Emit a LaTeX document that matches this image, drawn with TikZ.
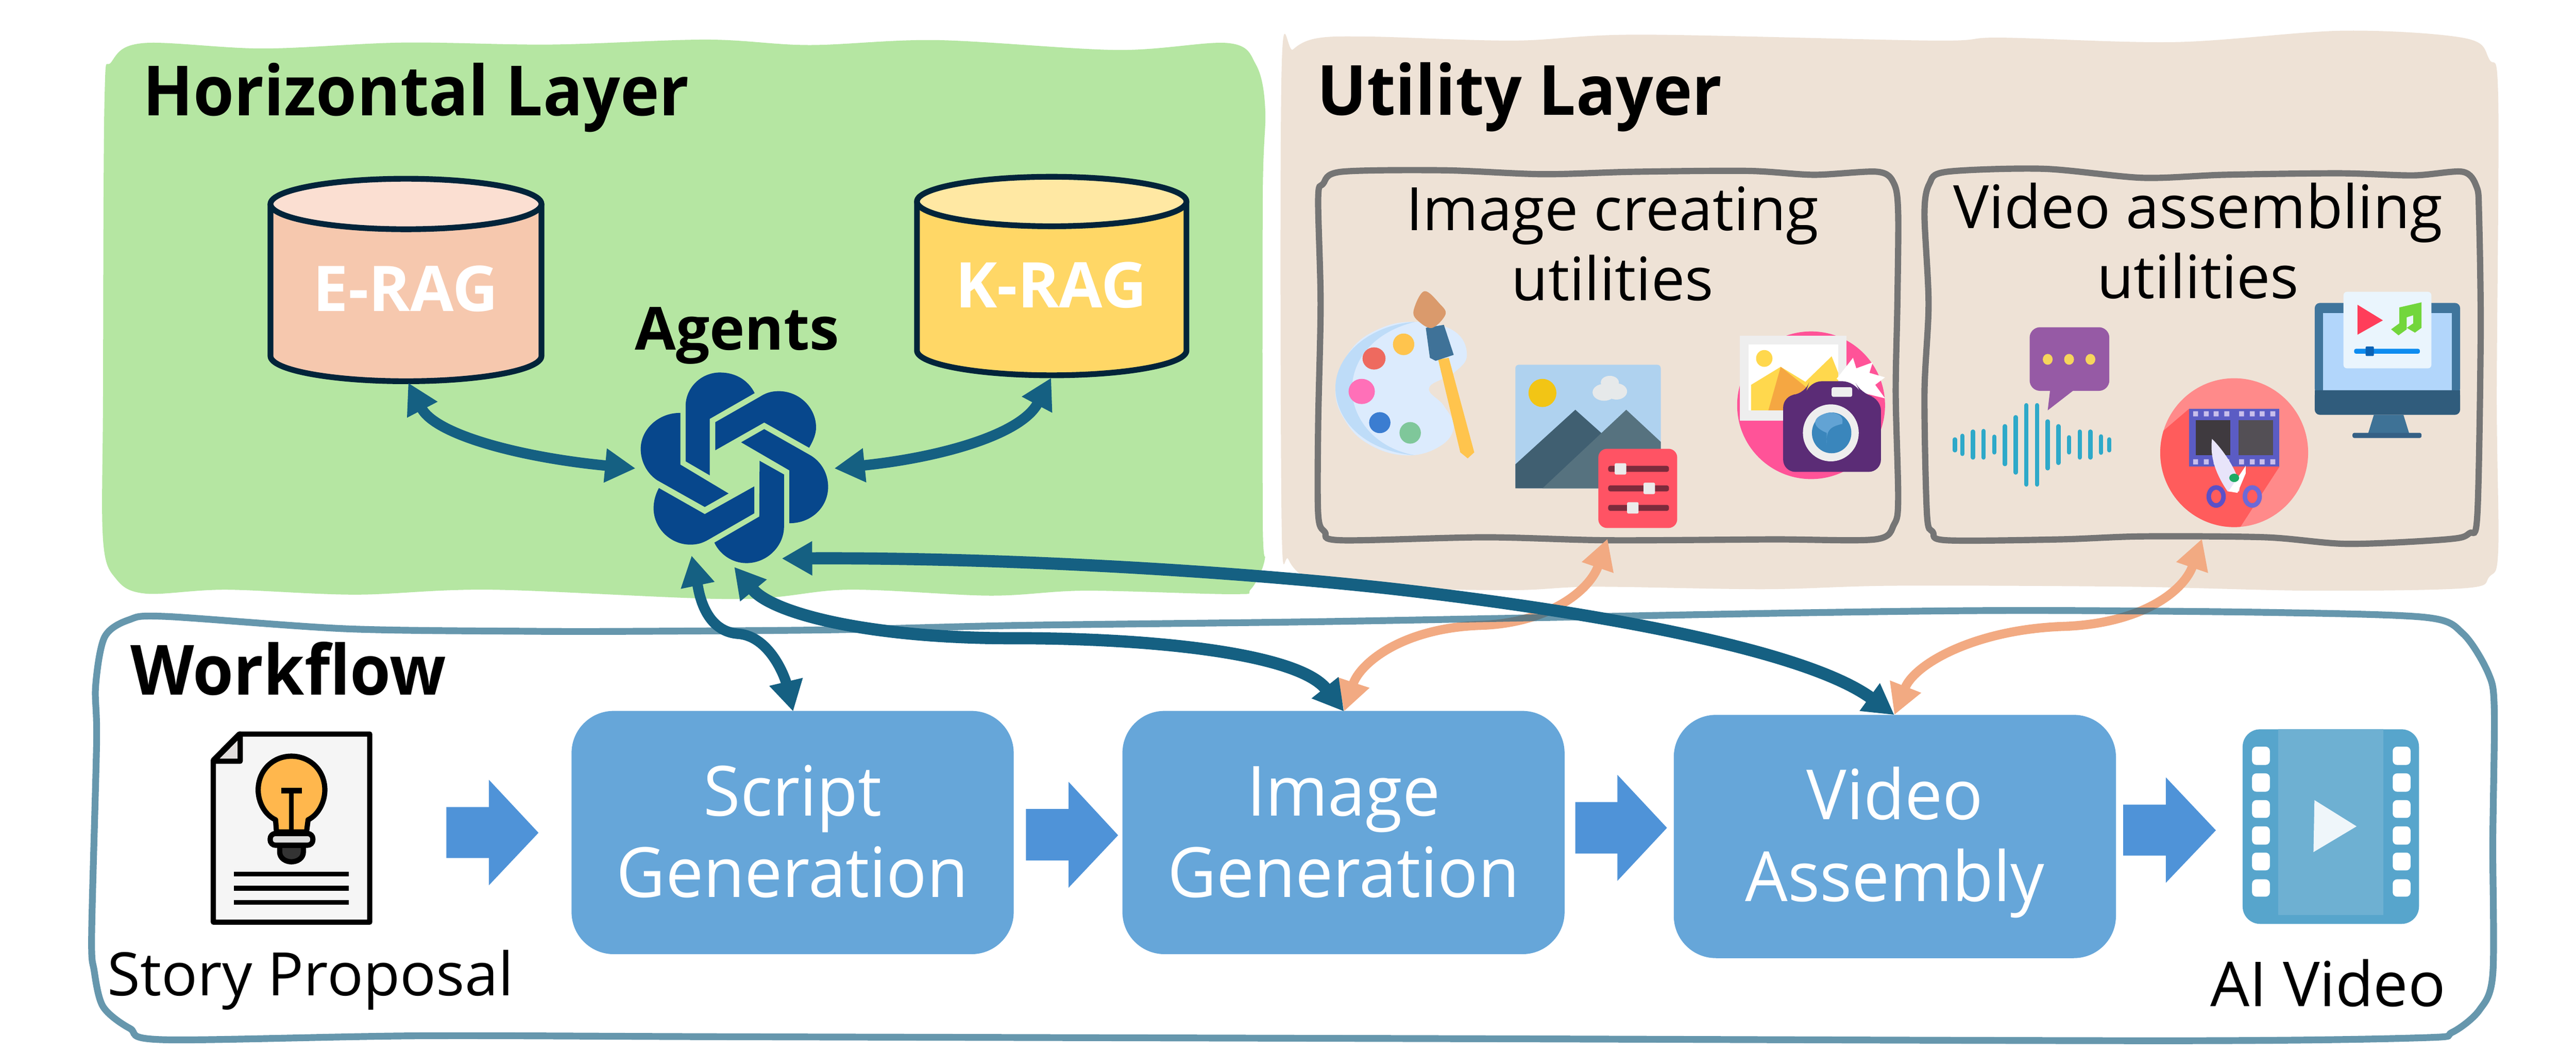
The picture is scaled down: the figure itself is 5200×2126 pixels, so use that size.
\documentclass[tikz,border=0pt]{standalone}
\usepackage{fontspec}
\usetikzlibrary{arrows.meta}
\setmainfont{Open Sans}
\newfontfamily\headfont[FakeStretch=0.95]{Open Sans}
\newfontfamily\boxfont[FakeStretch=0.97]{Open Sans}
\definecolor{panelgreen}{HTML}{B5E6A2}
\definecolor{panelbeige}{HTML}{EEE2D6}
\definecolor{wfline}{HTML}{156082}
\definecolor{dkline}{HTML}{156082}
\definecolor{orline}{HTML}{F2AA82}
\definecolor{boxblue}{HTML}{66A6D9}
\definecolor{fatblue}{HTML}{4F93D8}
\definecolor{cylline}{HTML}{02243A}
\definecolor{logoblue}{HTML}{07478C}
\definecolor{gbox}{HTML}{757575}
\definecolor{filmdk}{HTML}{57A5CC}
\definecolor{filmlt}{HTML}{6EB0D2}
\definecolor{eragbody}{HTML}{F6C8AE}
\definecolor{eragtop}{HTML}{FBDFD2}
\definecolor{kragbody}{HTML}{FFD766}
\definecolor{kragtop}{HTML}{FFE8A3}
\tikzset{
  headingtext/.style={anchor=base,inner sep=0pt,font=\headfont\fontsize{39.8}{46}\bfseries\selectfont},
  plaintext/.style={anchor=base,inner sep=0pt,font=\fontsize{34.4}{40}\selectfont},
  boldmid/.style={anchor=base,inner sep=0pt,font=\fontsize{34.2}{40}\bfseries\selectfont},
  ragtext/.style={anchor=base,inner sep=0pt,text=white,font=\fontsize{36.2}{42}\bfseries\selectfont},
  flowbox/.style={fill=boxblue,rounded corners=.85cm,minimum width=8.92cm,minimum height=4.91cm,inner sep=0pt,align=center,text=white,font=\boxfont\fontsize{39.8}{46.94}\selectfont},
  dkarrow/.style={draw=dkline,line width=#1,{Triangle[length=17.5pt,width=18.5pt]}-{Triangle[length=17.5pt,width=18.5pt]}},
  orarrow/.style={draw=orline,line width=5.2pt,{Triangle[length=17.5pt,width=18pt]}-{Triangle[length=17.5pt,width=18pt]}},
  fatarrow/.style={fill=fatblue},
  sketchbox/.style={draw=gbox,line width=3.6pt},
  cyl/.style={draw=cylline,line width=3.3pt,line join=round},
  logopiece/.style={fill=logoblue},
  inkline/.style={draw=black,line width=3pt,line join=round},
}
\newcommand{\twolines}[2]{\rule{0pt}{1.4cm}#1\\#2\rule[-.43cm]{0pt}{.43cm}}
\begin{document}
\begin{tikzpicture}[x=0.01cm,y=-0.01cm]
\useasboundingbox (0,0) rectangle (5200,2126);
\fill[white] (0,0) rectangle (5200,2126);

% ---------- panels
\fill[panelgreen] plot[smooth cycle,tension=.55] coordinates {
 (290,87)(531,98)(813,86)(1111,90)(1426,80)(1633,91)(1891,81)(2255,101)(2479,87)(2535,130)(2554,220)(2549,400)(2549,1050)(2553,1130)(2525,1190)(2487,1200)(2190,1193)(1998,1203)(1712,1191)(1482,1210)(992,1191)(717,1201)(456,1191)(295,1199)(235,1170)(208,1090)(208,800)(211,200)(225,125)};
\fill[panelbeige] plot[smooth cycle,tension=.55] coordinates {
 (2660,77)(2770,74)(3057,82)(3310,70)(3902,82)(4037,76)(4392,85)(4730,62)(4975,77)(5025,120)(5043,200)(5040,800)(5043,1110)(5025,1165)(4975,1188)(4667,1193)(4300,1185)(3825,1183)(3561,1190)(3217,1185)(3044,1192)(2700,1185)(2640,1170)(2601,1130)(2587,1050)(2587,143)(2610,100)};

% ---------- headings
\node[headingtext,anchor=base west] (hlayer) at (288,233) {Horizontal Layer};
\node[headingtext,anchor=base west] (ulayer) at (2658,232) {Utility Layer};
\node[headingtext,anchor=base west] (wflow) at (263,1403) {Workflow};

% ---------- cylinders
\draw[cyl,fill=eragbody] (546,412) -- (546,719) arc[start angle=180,end angle=0,x radius=273.5,y radius=51] -- (1093,412) -- cycle;
\draw[cyl,fill=eragtop] (819.5,412) ellipse[x radius=273.5,y radius=51];
\draw[cyl,fill=kragbody] (1851,407) -- (1851,708) arc[start angle=180,end angle=0,x radius=272,y radius=50] -- (2395,407) -- cycle;
\draw[cyl,fill=kragtop] (2123,407) ellipse[x radius=272,y radius=50];
\node[ragtext] (erag) at (819,629) {E-RAG};
\node[ragtext] (krag) at (2122,621) {K-RAG};
\coordinate (eragport) at (824,773);
\coordinate (kragport) at (2122,763);

% ---------- agents
\node[boldmid] (agents) at (1488,707) {Agents};
\begin{scope}[shift={(1240,720)},scale=.33333]
\fill[logopiece] (850,222) .. controls (810,140) and (730,97) .. (640,97) .. controls (525,97) and (432,190) .. (432,300) -- (432,635) -- (578,720) -- (578,378) -- cycle;
\fill[logopiece] (612,398) -- (880,245) .. controls (915,222) and (950,210) .. (995,210) .. controls (1120,210) and (1222,310) .. (1222,430) .. controls (1222,470) and (1205,510) .. (1180,553) -- (908,400) -- (612,568) -- cycle;
\fill[logopiece] (768,520) -- (908,440) -- (1190,600) .. controls (1255,640) and (1295,710) .. (1295,790) .. controls (1295,915) and (1190,1012) .. (1060,1010) -- (1060,690) -- cycle;
\fill[logopiece] (880,632) -- (1028,715) -- (1028,1030) .. controls (1028,1150) and (925,1252) .. (800,1252) .. controls (715,1252) and (640,1200) .. (606,1128) -- (878,970) -- cycle;
\fill[logopiece] (848,787) -- (848,950) -- (570,1110) .. controls (535,1130) and (505,1140) .. (460,1140) .. controls (340,1140) and (238,1040) .. (238,920) .. controls (238,875) and (250,835) .. (270,797) -- (548,955) -- cycle;
\fill[logopiece] (692,830) -- (548,912) -- (260,750) .. controls (200,710) and (160,640) .. (160,560) .. controls (160,440) and (270,340) .. (400,342) -- (400,655) -- cycle;
\end{scope}
\coordinate (agW) at (1283,946);
\coordinate (agE) at (1684,946);
\coordinate (agS1) at (1396,1122);
\coordinate (agS2) at (1482,1145);
\coordinate (agS3) at (1578,1128);

% ---------- utility boxes
\begin{scope}[shift={(2500,250)},xscale=1.6584,yscale=.60606]
\draw[sketchbox] plot[smooth cycle,tension=.5] coordinates {
 (125,160)(250,155)(370,168)(480,160)(620,157)(700,170)(778,160)(798,200)(803,300)(802,600)(800,900)(803,1250)(798,1335)(775,1385)(650,1385)(450,1388)(300,1378)(125,1388)(105,1360)(97,1300)(97,1000)(100,600)(97,250)(103,200)};
\draw[sketchbox] plot[smooth cycle,tension=.5] coordinates {
 (862,160)(980,150)(1100,180)(1200,170)(1340,165)(1430,172)(1490,160)(1507,210)(1510,300)(1512,700)(1508,1300)(1498,1365)(1470,1385)(1350,1400)(1250,1378)(1100,1375)(1000,1385)(862,1388)(845,1360)(838,1300)(835,900)(840,600)(835,300)(841,200)};

% palette
\fill[fill={rgb,255:red,220;green,235;blue,253}] plot[smooth cycle,tension=.7] coordinates {(215,660)(262,690)(278,770)(262,830)(232,880)(250,940)(262,1010)(245,1075)(205,1105)(160,1070)(130,990)(118,880)(135,760)(170,685)};
\fill[fill={rgb,255:red,190;green,220;blue,248}] (215,1105) .. controls (150,1090) and (118,980) .. (118,880) .. controls (118,770) and (160,670) .. (215,660) .. controls (170,690) and (140,770) .. (138,880) .. controls (138,980) and (165,1080) .. (215,1105) -- cycle;
\fill[fill={rgb,255:red,255;green,196;blue,77}] (201,735) ellipse[x radius=13,y radius=36];
\fill[fill={rgb,255:red,238;green,106;blue,95}] (165,782) ellipse[x radius=14,y radius=37];
\fill[fill={rgb,255:red,255;green,112;blue,184}] (150,892) ellipse[x radius=16,y radius=42];
\fill[fill={rgb,255:red,59;green,125;blue,209}] (172,996) ellipse[x radius=13,y radius=35];
\fill[fill={rgb,255:red,127;green,199;blue,154}] (209,1030) ellipse[x radius=13,y radius=36];
\fill[fill={rgb,255:red,255;green,196;blue,77}] (243,785) -- (256,780) -- (287,1095) -- (279,1115) -- (270,1095) -- cycle;
\fill[fill={rgb,255:red,63;green,114;blue,152}] (228,680) -- (250,670) -- (262,770) -- (240,790) -- (233,780) -- cycle;
\fill[fill={rgb,255:red,218;green,154;blue,108}] plot[smooth cycle,tension=.6] coordinates {(226,558)(245,600)(252,635)(236,680)(220,660)(213,625)};

% picture + sliders
\fill[fill={rgb,255:red,175;green,210;blue,239},rounded corners=2pt] (337,803) rectangle (514,1215);
\fill[fill={rgb,255:red,242;green,197;blue,21}] (370,897) ellipse[x radius=17,y radius=47];
\fill[fill={rgb,255:red,230;green,233;blue,234}] (452,862) ellipse[x radius=11,y radius=22] (445,895) ellipse[x radius=14,y radius=28] (460,892) ellipse[x radius=13,y radius=27];
\fill[fill={rgb,255:red,64;green,95;blue,113}] (337,1135) -- (410,953) -- (470,1100) -- (470,1215) -- (337,1215) -- cycle;
\fill[fill={rgb,255:red,86;green,114;blue,127}] (370,1215) -- (472,953) -- (514,1060) -- (514,1215) -- cycle;
\fill[fill={rgb,255:red,255;green,83;blue,100},rounded corners=5pt] (438,1083) rectangle (534,1347);
\foreach \yy/\kx in {1150/465,1215/500,1280/480}{
  \fill[fill={rgb,255:red,124;green,43;blue,60},rounded corners=1.2pt] (450,\yy-10) rectangle (524,\yy+10);
  \fill[white!92!black,rounded corners=.8pt] (\kx-7,\yy-19) rectangle (\kx+7,\yy+19);
}

% camera
\fill[fill={rgb,255:red,255;green,83;blue,152}] (697,938) ellipse[x radius=90,y radius=246];
\fill[fill={rgb,255:red,238;green,238;blue,238}] (610,706) rectangle (740,990);
\fill[white] (621,735) rectangle (730,955);
\fill[fill={rgb,255:red,255;green,216;blue,77}] (640,782) ellipse[x radius=10,y radius=28];
\fill[fill={rgb,255:red,255;green,216;blue,77}] (624,870) -- (660,810) -- (690,860) -- (722,775) -- (730,830) -- (730,955) -- (624,955) -- cycle;
\fill[fill={rgb,255:red,245;green,167;blue,66}] (645,955) -- (660,810) -- (692,880) -- (692,955) -- cycle;
\fill[white] (728,850) -- (748,780) -- (752,815) -- (772,795) -- (768,830) -- (787,845) -- (775,870) -- (787,915) -- (750,890) -- cycle;
\fill[fill={rgb,255:red,91;green,44;blue,118},rounded corners=7pt] (663,905) -- (690,900) -- (695,858) -- (750,858) -- (758,900) -- (782,915) -- (782,1160) -- (663,1160) -- cycle;
\fill[fill={rgb,255:red,238;green,238;blue,238},rounded corners=1pt] (722,878) rectangle (747,910);
\fill[fill={rgb,255:red,238;green,238;blue,238}] (721,1030) ellipse[x radius=34,y radius=95];
\fill[fill={rgb,255:red,58;green,134;blue,188}] (722,1030) ellipse[x radius=24,y radius=68];
\fill[fill={rgb,255:red,98;green,163;blue,212}] (716,1030) .. controls (690,1000) and (705,965) .. (722,962) .. controls (738,970) and (735,990) .. (735,1000) .. controls (720,1010) and (715,1020) .. (716,1070) -- cycle;

% speech + waveform
\fill[fill={rgb,255:red,150;green,90;blue,165},rounded corners=6pt] (963,678) rectangle (1060,890);
\fill[fill={rgb,255:red,150;green,90;blue,165}] (988,885) -- (985,955) -- (1018,885) -- cycle;
\foreach \dx in {985,1011,1037}{\fill[fill={rgb,255:red,246;green,213;blue,92}] (\dx,785) ellipse[x radius=6,y radius=18];}
\foreach \bx/\ba/\bb in {872/1052/1088,881/1040/1100,894/1026/1112,907/1024/1112,920/1043/1095,933/1008/1134,946/978/1162,959/938/1202,972/938/1202,985/992/1148,998/1008/1130,1011/1045/1095,1024/1026/1112,1037/1026/1112,1050/1042/1096,1060/1052/1088}{
  \draw[draw={rgb,255:red,46;green,169;blue,201},line width=2.5pt,line cap=round] (\bx,\ba) -- (\bx,\bb);
}

% scissors
\begin{scope}
\clip (1212,1096) ellipse[x radius=90,y radius=248];
\fill[fill={rgb,255:red,255;green,138;blue,138}] (1100,840) rectangle (1310,1350);
\fill[fill={rgb,255:red,255;green,92;blue,92}] (1110,1060) -- (1157,950) -- (1267,1143) -- (1218,1350) -- (1110,1350) -- cycle;
\end{scope}
\fill[fill={rgb,255:red,91;green,92;blue,196}] (1157,950) rectangle (1267,1143);
\fill[fill={rgb,255:red,63;green,58;blue,63}] (1165,988) rectangle (1207,1105);
\fill[fill={rgb,255:red,83;green,79;blue,85}] (1217,988) rectangle (1259,1105);
\foreach \sx in {1165,1178,1190,1203,1221,1234,1246,1259}{\fill[fill={rgb,255:red,200;green,190;blue,235}] (\sx-3,958) rectangle (\sx+3,975) (\sx-3,1118) rectangle (\sx+3,1135);}
\fill[fill={rgb,255:red,232;green,228;blue,250}] (1185,1050) .. controls (1200,1090) and (1222,1180) .. (1218,1225) -- (1204,1225) .. controls (1190,1170) and (1182,1110) .. (1185,1050) -- cycle;
\fill[white] (1226,1140) -- (1205,1225) -- (1216,1230) -- (1226,1165) -- cycle;
\fill[fill={rgb,255:red,30;green,170;blue,100}] (1212,1180) ellipse[x radius=6,y radius=14];
\draw[draw={rgb,255:red,91;green,80;blue,200},line width=2.6pt] (1190,1242) ellipse[x radius=9,y radius=30];
\draw[draw={rgb,255:red,110;green,105;blue,215},line width=2.6pt] (1234,1242) ellipse[x radius=9,y radius=30];

% monitor
\fill[fill={rgb,255:red,64;green,117;blue,156},rounded corners=3pt] (1310,597) rectangle (1487,900);
\fill[fill={rgb,255:red,178;green,214;blue,251}] (1320,630) rectangle (1477,890);
\fill[fill={rgb,255:red,48;green,92;blue,124},rounded corners=3pt] (1310,888) rectangle (1487,970);
\fill[fill={rgb,255:red,48;green,92;blue,124}] (1310,888) rectangle (1487,930);
\fill[fill={rgb,255:red,62;green,114;blue,150}] (1382,970) -- (1418,970) -- (1425,1032) -- (1375,1032) -- cycle;
\fill[fill={rgb,255:red,53;green,96;blue,133},rounded corners=1pt] (1356,1030) rectangle (1440,1047);
\fill[fill={rgb,255:red,234;green,245;blue,253},rounded corners=2pt] (1345,560) rectangle (1452,815);
\fill[fill={rgb,255:red,255;green,61;blue,90}] (1362,603) -- (1393,655) -- (1362,703) -- cycle;
\fill[fill={rgb,255:red,114;green,214;blue,60}] (1413,612) -- (1440,595) -- (1440,680) -- (1432,696) -- (1422,680) -- (1430,665) -- (1430,638) -- (1422,645) -- (1422,685) -- (1412,705) -- (1403,685) -- (1413,665) -- cycle;
\fill[fill={rgb,255:red,13;green,140;blue,240},rounded corners=1pt] (1358,750) rectangle (1438,766);
\fill[fill={rgb,255:red,10;green,98;blue,181},rounded corners=.6pt] (1372,742) rectangle (1382,774);
\end{scope}
\node[plaintext] (imgutil1) at (3255,465) {Image creating};
\node[plaintext] (imgutil2) at (3255,607) {utilities};
\node[plaintext] (vidutil1) at (4437,461) {Video assembling};
\node[plaintext] (vidutil2) at (4437,603) {utilities};
\coordinate (imgport) at (3245,1088);
\coordinate (vidport) at (4445,1088);

% ---------- workflow boxes
\node[flowbox] (script) at (1600,1681.5) {\twolines{Script}{Generation}};
\node[flowbox] (image)  at (2712,1681.5) {\twolines{Image}{Generation}};
\node[flowbox] (video)  at (3825,1689.5) {\twolines{Video}{Assembly}};
\coordinate (scriptN) at (1601,1437);
\coordinate (imageN) at (2713,1437);
\coordinate (videoN) at (3824,1444);

% fat arrows
\fill[fatarrow] (901,1630) -- (987,1630) -- (987,1575) -- (1087,1682) -- (987,1788) -- (987,1733) -- (901,1733) -- cycle;
\fill[fatarrow] (2071,1634) -- (2157,1634) -- (2157,1579) -- (2257,1687) -- (2157,1793) -- (2157,1738) -- (2071,1738) -- cycle;
\fill[fatarrow] (3180,1620) -- (3265,1620) -- (3265,1565) -- (3365,1672) -- (3265,1779) -- (3265,1724) -- (3180,1724) -- cycle;
\fill[fatarrow] (4286,1625) -- (4372,1625) -- (4372,1570) -- (4473,1677) -- (4372,1783) -- (4372,1728) -- (4286,1728) -- cycle;

% story proposal icon
\begin{scope}[shift={(150,1350)},xscale=.63776,yscale=.44643]
\fill[inkline,fill={rgb,255:red,245;green,245;blue,245},draw=black] (522,297) -- (935,297) -- (935,1148) -- (440,1148) -- (440,415) -- cycle;
\fill[inkline,fill={rgb,255:red,226;green,222;blue,221},draw=black] (525,297) -- (525,420) -- (440,420) -- cycle;
\fill[inkline,fill={rgb,255:red,255;green,183;blue,77},draw=black] (640,740) -- (637,685) .. controls (600,660) and (582,600) .. (582,550) .. controls (582,460) and (630,397) .. (687,397) .. controls (745,397) and (793,460) .. (793,550) .. controls (793,600) and (775,660) .. (740,685) -- (735,740) -- cycle;
\draw[black,line width=3pt] (655,553) -- (720,553);
\draw[black,line width=2.6pt] (687,553) -- (687,745);
\fill[inkline,fill={rgb,255:red,51;green,51;blue,51},draw=black] (650,800) -- (725,800) -- (725,830) .. controls (725,860) and (705,875) .. (687,875) .. controls (670,875) and (650,860) .. (650,830) -- cycle;
\fill[inkline,fill={rgb,255:red,221;green,221;blue,221},draw=black,rounded corners=3pt] (620,747) rectangle (755,800);
\foreach \ly in {931,995,1058}{\fill[black] (505,\ly-11) rectangle (868,\ly+11);}
\end{scope}
\node[plaintext,anchor=base west] (story) at (216,2011) {Story Proposal};

% AI video icon
\fill[filmdk,rounded corners=10pt] (4527,1473) rectangle (4883,1866);
\fill[filmlt] (4599,1473) rectangle (4811,1848);
\fill[fill={rgb,255:red,239;green,246;blue,250}] (4672,1616) -- (4757,1669) -- (4670,1721) -- cycle;
\foreach \ya/\yb in {1508/1545,1562/1599,1616/1652,1669/1706,1722/1758,1776/1811}{
  \fill[white,rounded corners=2.5pt] (4546,\ya) rectangle (4582,\yb);
  \fill[white,rounded corners=2.5pt] (4830,\ya) rectangle (4866,\yb);
}
\node[plaintext,anchor=base west,font=\fontsize{35.6}{40}\selectfont] (aivideo) at (4461,2033) {AI Video};

% ---------- connectors
\draw[orarrow] (imgport) .. controls (3210,1190) and (3130,1258) .. (2990,1263) .. controls (2830,1268) and (2745,1340) .. (imageN);
\draw[orarrow] (vidport) .. controls (4410,1190) and (4330,1258) .. (4170,1265) .. controls (3990,1270) and (3865,1340) .. (videoN);
% workflow outline (translucent, over the orange arrows)
\draw[draw=wfline,draw opacity=.65,line width=3.9pt] plot[smooth cycle,tension=.5] coordinates {
 (334,1245)(700,1270)(1069,1275)(1300,1275)(1681,1272)(2065,1263)(2700,1255)(3618,1238)(4078,1233)(4587,1237)(4897,1247)(4972,1280)(5023,1360)(5035,1433)(5032,1700)(5032,1967)(5005,2040)(4950,2085)(4889,2096)(4400,2102)(3000,2098)(1500,2094)(850,2092)(333,2100)(262,2077)(208,2033)(190,1960)(185,1886)(195,1500)(193,1386)(211,1287)(260,1252)};
\draw[dkarrow=6pt] (eragport) .. controls (880,880) and (1060,925) .. (agW);
\draw[dkarrow=6pt] (kragport) .. controls (2060,880) and (1890,925) .. (agE);
\draw[dkarrow=6pt] (agS1) .. controls (1410,1190) and (1420,1275) .. (1490,1280) .. controls (1555,1285) and (1585,1370) .. (scriptN);
\draw[dkarrow=7pt] (agS2) .. controls (1560,1240) and (1760,1290) .. (2050,1289) .. controls (2330,1289) and (2620,1320) .. (imageN);
\draw[dkarrow=7pt] (agS3) .. controls (2000,1126) and (2450,1150) .. (2800,1188) .. controls (3200,1233) and (3640,1310) .. (videoN);
\end{tikzpicture}
\end{document}
